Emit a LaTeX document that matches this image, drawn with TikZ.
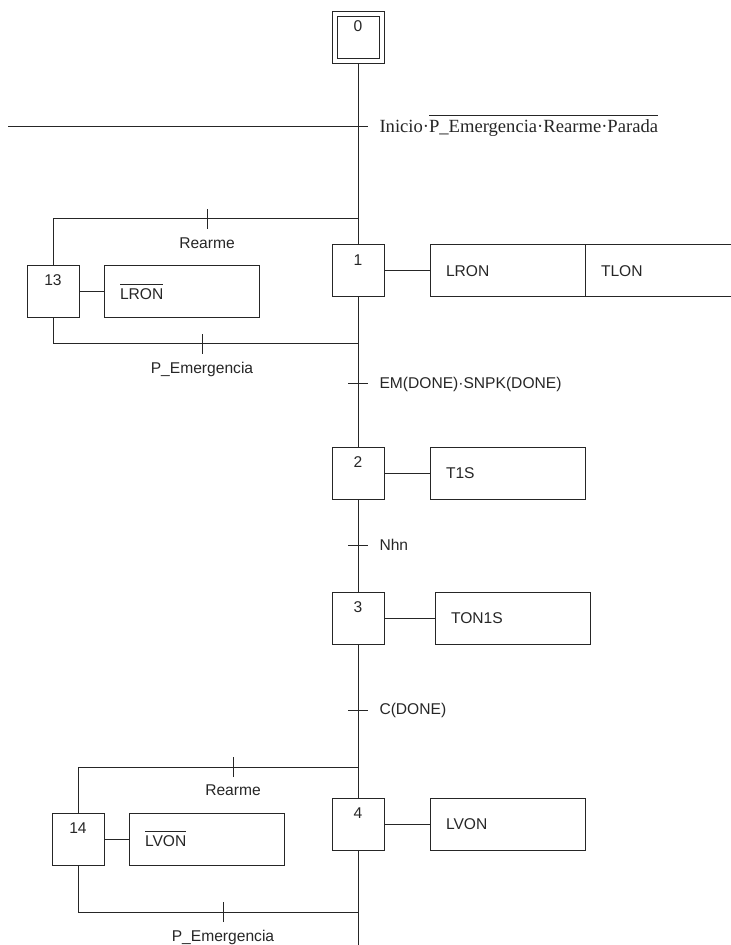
\documentclass[tikz,border=0pt]{standalone}
\usepackage{fontspec}
\setmainfont{Liberation Sans}
\newfontfamily\serifont{Liberation Serif}
\usetikzlibrary{positioning}
\newcommand\negbar[1]{\vbox{\hrule height 0.5pt\kern 2pt\hbox{#1}}}

\begin{document}
\begin{tikzpicture}
[x=0.5pt,y=-0.5pt,line width=0.5pt,color=black!85,
font=\fontsize{7.8}{9.4}\selectfont,
stepbox/.style={draw,minimum width=26pt,minimum height=26pt,inner sep=0pt,outer sep=0pt},
initbox/.style={draw,double,double distance=2pt,minimum width=23.5pt,minimum height=23.5pt,inner sep=0pt,outer sep=0pt},
actionbox/.style={draw,minimum width=77.5pt,minimum height=26pt,text width=61.5pt,
  inner xsep=8pt,inner ysep=0pt,outer sep=0pt,align=left},
num/.style={anchor=north,inner sep=0pt,yshift=-#1},
num/.default=4.5pt,
cond/.style={inner sep=0pt},
]
\useasboundingbox (0,0) rectangle (730,945);

% steps
\node[initbox,label={[num=3pt]north:0}] (s0) at (358,38) {};
\node[stepbox,label={[num]north:1}] (s1) at (358,271) {};
\node[stepbox,label={[num]north:2}] (s2) at (358,473) {};
\node[stepbox,label={[num]north:3}] (s3) at (358,618) {};
\node[stepbox,label={[num]north:4}] (s4) at (358,824) {};
\node[stepbox,label={[num=4pt]north:13}] (s13) at (53,292) {};
\node[stepbox,label={[num]north:14}] (s14) at (78,839) {};

% actions
\node[actionbox,right=23pt of s1] (a1) {LRON};
\node[actionbox,right=0pt of a1] (a1b) {TLON};
\node[actionbox,right=23pt of s2] (a2) {T1S};
\node[actionbox,right=25.5pt of s3] (a3) {TON1S};
\node[actionbox,right=23pt of s4] (a4) {LVON};
\node[actionbox,right=12.5pt of s13] (a13) {\negbar{LRON}};
\node[actionbox,right=12.5pt of s14] (a14) {\negbar{LVON}};
\foreach \s/\a in {s1/a1,s2/a2,s3/a3,s4/a4,s13/a13,s14/a14}
  \draw (\s) -- (\a);

% transitions
\coordinate (t0) at (358,127);
\coordinate (t1) at (358,384);
\coordinate (t2) at (358,545);
\coordinate (t3) at (358,710);
\coordinate (r13) at (207,219);
\coordinate (p13) at (202,344);
\coordinate (r14) at (233,767);
\coordinate (p14) at (223,912);

% main line and loops
\coordinate (w0) at (8,127);
\coordinate (j13a) at (358,219);
\coordinate (j13b) at (358,344);
\coordinate (j14a) at (358,767);
\coordinate (j14b) at (358,912);
\coordinate (e0) at (358,945);
\draw[shorten <=1.25pt] (s0.south) -- (s1.north);
\draw (s1.south) -- (s2.north);
\draw (s2.south) -- (s3.north);
\draw (s3.south) -- (s4.north);
\draw (s4.south) -- (e0);
\draw (w0) -- (t0);
\draw (j13a) -| (s13.north);
\draw (s13.south) |- (j13b);
\draw (j14a) -| (s14.north);
\draw (s14.south) |- (j14b);
\foreach \t in {t0,t1,t2,t3}
  \draw ([xshift=-5pt]\t) -- ([xshift=5pt]\t);
\foreach \t in {r13,p13,r14,p14}
  \draw ([yshift=-5pt]\t) -- ([yshift=5pt]\t);

% conditions
\node[cond,anchor=base west] (c0) at (379,133)
  {\serifont\fontsize{9.3}{11}\selectfont Inicio·\negbar{P\_Emergencia·Rearme·Parada}};
\node[cond,right=10.5pt of t1] (c1) {EM(DONE)·SNPK(DONE)};
\node[cond,right=10.5pt of t2] (c2) {Nhn};
\node[cond,right=10.5pt of t3] (c3) {C(DONE)};
\node[cond,below=9pt of r13] (c13r) {Rearme};
\node[cond,below=9pt of p13] (c13p) {P\_Emergencia};
\node[cond,below=8.5pt of r14] (c14r) {Rearme};
\node[cond,below=9pt of p14] (c14p) {P\_Emergencia};
\end{tikzpicture}
\end{document}
